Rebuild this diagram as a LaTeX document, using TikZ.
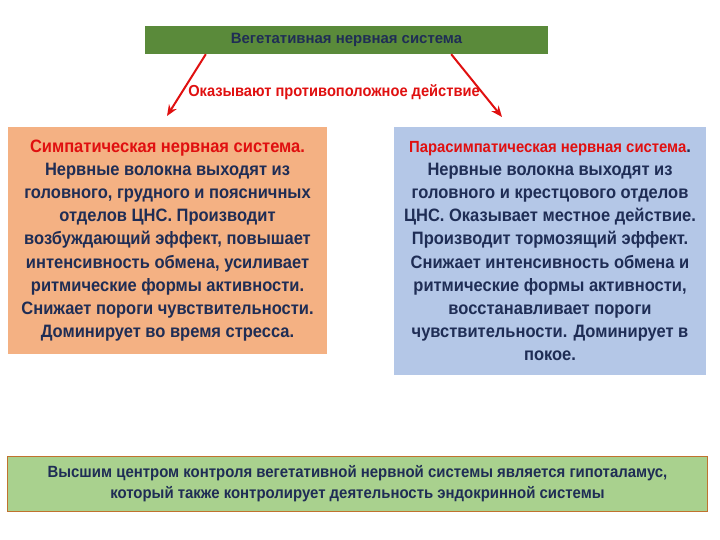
\documentclass[tikz,border=0pt]{standalone}
\usepackage{fontspec}
\setmainfont{Liberation Sans}[FakeStretch=0.92,BoldFont={* Bold},BoldFeatures={FakeStretch=0.92}]
\newfontfamily\plainfont{Liberation Sans}
\usepackage{tikz}
\usetikzlibrary{arrows.meta,positioning,calc}
\definecolor{vegGreen}{HTML}{5A8A3A}
\definecolor{navyText}{HTML}{1F2D55}
\definecolor{redText}{HTML}{E01010}
\definecolor{peach}{HTML}{F4B183}
\definecolor{paleBlue}{HTML}{B4C7E7}
\definecolor{paleGreen}{HTML}{A9D18E}
\definecolor{rimOrange}{HTML}{C0722E}

\begin{document}
\begin{tikzpicture}[x=1bp,y=-1bp,% pixel coordinates, y going down
	every node/.style={
		align=center,		% so "\\" breaks lines
		inner sep=0pt,
		font=\bfseries,
		text=navyText
		},
	infobox/.style={rectangle,minimum width=#1,font=\bfseries\fontsize{18}{23.3}\selectfont},
	redarrow/.style={draw=redText,line width=2bp,-{Stealth[length=11bp,width=9bp]}}
	]
	\useasboundingbox[fill=white] (0,0) rectangle (720,540);
	\node[rectangle,fill=vegGreen,minimum width=403bp,minimum height=28bp,font=\plainfont\bfseries\fontsize{15}{16}\selectfont](veg) at (346.5,40){Вегетативная нервная система};
	\node[text=redText,font=\bfseries\fontsize{16}{18}\selectfont](opp) at (334,92){Оказывают противоположное действие};
	\node[infobox=319bp,fill=peach,minimum height=227bp](symp) at (167.5,240.5){{\color{redText}Симпатическая нервная система.}\\
		Нервные волокна выходят из\\
		головного, грудного и поясничных\\
		отделов ЦНС. Производит\\
		возбуждающий эффект, повышает\\
		интенсивность обмена, усиливает\\
		ритмические формы активности.\\
		Снижает пороги чувствительности.\\
		Доминирует во время стресса.};
	\node[infobox=312bp,fill=paleBlue,minimum height=248bp](para) at (550,251){{\color{redText}\fontsize{16.2}{23.3}\selectfont Парасимпатическая нервная система}.\\
		Нервные волокна выходят из\\
		головного и крестцового отделов\\
		ЦНС. Оказывает местное действие.\\
		Производит тормозящий эффект.\\
		Снижает интенсивность обмена и\\
		ритмические формы активности,\\
		восстанавливает пороги\\
		чувствительности. Доминирует в\\
		покое.};
	\node[rectangle,draw=rimOrange,line width=1bp,fill=paleGreen,minimum width=699bp,minimum height=55bp,font=\bfseries\fontsize{16.3}{21}\selectfont](hypo) at (357.5,483.5){Высшим центром контроля вегетативной нервной системы является гипоталамус,\\
		который также контролирует деятельность эндокринной системы};
	\coordinate (lEnd) at (167,116);
	\coordinate (rEnd) at (502,117);
	\path
	([xshift=61bp]veg.south west) edge[redarrow] (lEnd)
	([xshift=-97bp]veg.south east) edge[redarrow] (rEnd)
	;
\end{tikzpicture}
\end{document}
